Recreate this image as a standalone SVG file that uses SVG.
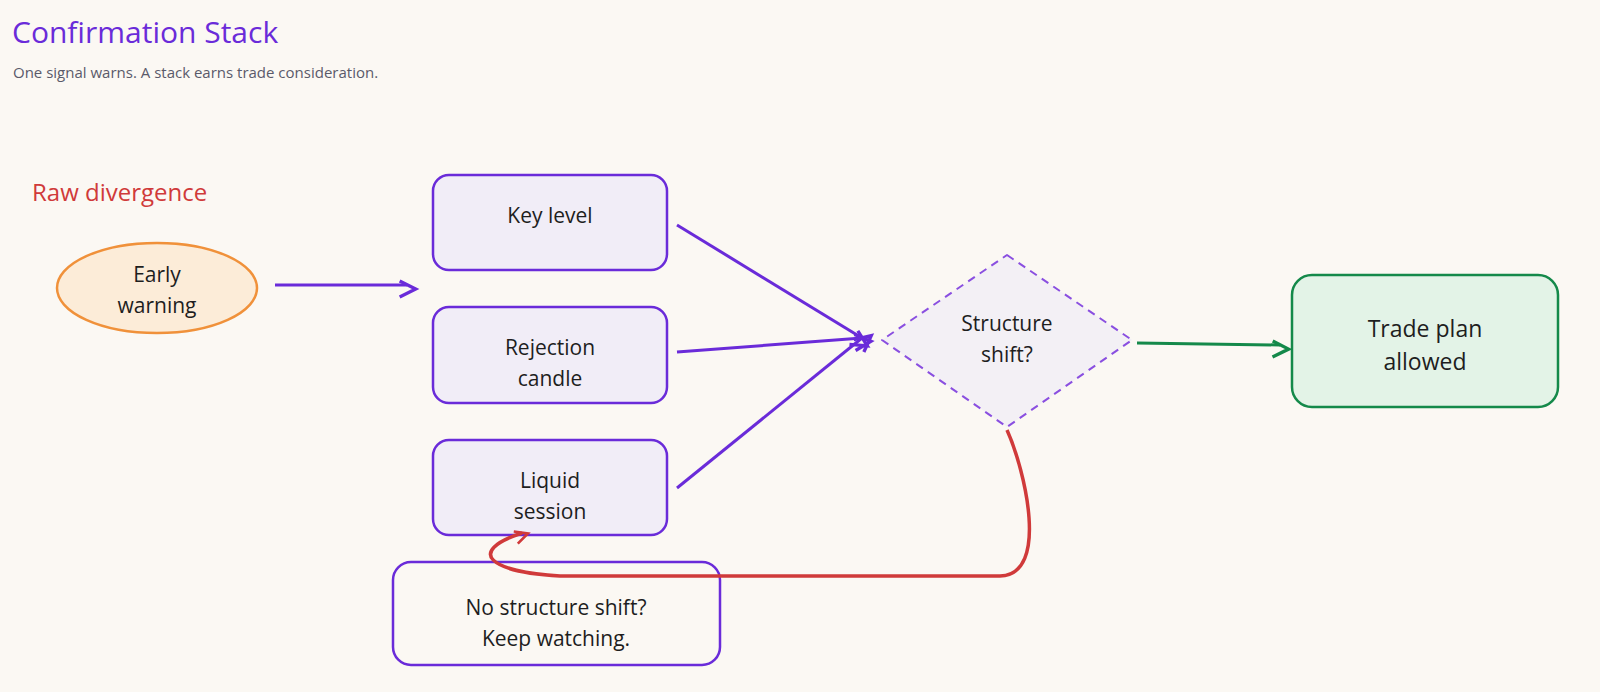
<svg xmlns="http://www.w3.org/2000/svg" width="1600" height="692" viewBox="0 0 1600 692">
<style>
.t{font-family:"Open Sans","Liberation Sans",sans-serif;fill:#1e1e1e;font-size:21px;text-anchor:middle}
.box{fill:#f1edf7;stroke:#6a2bd9;stroke-width:2.5}
.conn{fill:none;stroke:#6a2bd9;stroke-width:3;marker-end:url(#ap)}
</style>
<defs>
<marker id="ap" viewBox="0 0 12 12" refX="11" refY="6" markerWidth="8" markerHeight="8" markerUnits="userSpaceOnUse" orient="auto" style="overflow:visible"><path d="M0,0 L12,6 L0,12" fill="none" stroke="#6a2bd9" stroke-width="2.5" transform="scale(2)"/></marker>
<marker id="ag" viewBox="0 0 12 12" refX="11" refY="6" markerWidth="8" markerHeight="8" markerUnits="userSpaceOnUse" orient="auto" style="overflow:visible"><path d="M0,0 L12,6 L0,12" fill="none" stroke="#14894a" stroke-width="2.5" transform="scale(2)"/></marker>
<marker id="ar" viewBox="0 0 12 12" refX="11" refY="6" markerWidth="8" markerHeight="8" markerUnits="userSpaceOnUse" orient="auto" style="overflow:visible"><path d="M0,0 L12,6 L0,12" fill="none" stroke="#d03a3a" stroke-width="2.5" transform="scale(1.6)"/></marker>
</defs>
<rect width="1600" height="692" fill="#fbf8f3"/>
<text x="12" y="43" style="font-family:'Open Sans','Liberation Sans',sans-serif;font-size:30px;fill:#6a2bd9">Confirmation Stack</text>
<text x="13" y="78" style="font-family:'Open Sans','Liberation Sans',sans-serif;font-size:15px;fill:#5a5a6a">One signal warns. A stack earns trade consideration.</text>
<text x="32" y="201" style="font-family:'Open Sans','Liberation Sans',sans-serif;font-size:24px;fill:#d03a3a">Raw divergence</text>
<g id="early"><ellipse cx="157" cy="288" rx="100" ry="45" fill="#fcecd8" stroke="#f0913a" stroke-width="2.5"/><text class="t" x="157" y="282">Early</text><text class="t" x="157" y="313">warning</text></g>
<g id="key"><rect class="box" x="433" y="175" width="234" height="95" rx="16"/><text class="t" x="550" y="223">Key level</text></g>
<g id="rej"><rect class="box" x="433" y="307" width="234" height="96" rx="16"/><text class="t" x="550" y="355">Rejection</text><text class="t" x="550" y="386">candle</text></g>
<g id="liq"><rect class="box" x="433" y="440" width="234" height="95" rx="16"/><text class="t" x="550" y="488">Liquid</text><text class="t" x="550" y="519">session</text></g>
<g id="diamond"><path d="M1007,255 L1132,340 L1007,427 L882,340 Z" fill="#f3f0f5" stroke="#8a4fe0" stroke-width="2" stroke-dasharray="8 6" stroke-linejoin="round"/><text class="t" x="1007" y="331">Structure</text><text class="t" x="1007" y="362">shift?</text></g>
<g id="trade"><rect x="1292" y="275" width="266" height="132" rx="20" fill="#e3f3e7" stroke="#14894a" stroke-width="2.5"/><text class="t" x="1425" y="337" style="font-size:23px">Trade plan</text><text class="t" x="1425" y="370" style="font-size:23px">allowed</text></g>
<g id="watch"><rect x="393" y="562" width="327" height="103" rx="18" fill="#fbf8f3" stroke="#6a2bd9" stroke-width="2.5"/><text class="t" x="556" y="615">No structure shift?</text><text class="t" x="556" y="646">Keep watching.</text></g>
<g id="connectors">
<path class="conn" d="M275,285 L407,285"/>
<path class="conn" d="M677,225 L862,338"/>
<path class="conn" d="M677,352 L862,338"/>
<path class="conn" d="M677,488 L862,338"/>
<path d="M1137,343 L1280,345" fill="none" stroke="#14894a" stroke-width="3" marker-end="url(#ag)"/>
<path d="M1007,430 C1025,470 1050,575 1000,576 L560,576 C490,572 465,552 522,533" fill="none" stroke="#d03a3a" stroke-width="3.5" marker-end="url(#ar)"/>
</g>
</svg>
